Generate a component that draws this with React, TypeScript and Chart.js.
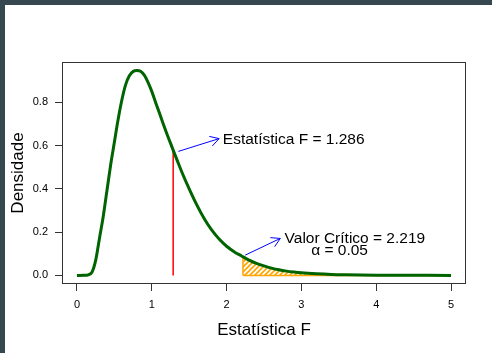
import React, { useEffect, useRef } from "react";
import { Chart, registerables } from "chart.js";

Chart.register(...registerables);

// ---- data ----
const fValues = [0, 0.1, 0.15, 0.2, 0.25, 0.3, 0.35, 0.4, 0.45, 0.5, 0.55, 0.6, 0.65, 0.7, 0.75, 0.8, 0.85, 0.9, 0.95, 1.0, 1.05, 1.1, 1.15, 1.2, 1.25, 1.3, 1.35, 1.4, 1.5, 1.6, 1.7, 1.8, 1.9, 2.0, 2.1, 2.2, 2.3, 2.4, 2.5, 2.6, 2.7, 2.8, 2.9, 3.0, 3.2, 3.4, 3.6, 3.8, 4.0, 4.5, 5.0];
const densityValues = [0, 0.0005, 0.003, 0.015, 0.07, 0.17, 0.27, 0.39, 0.51, 0.615, 0.72, 0.81, 0.88, 0.922, 0.942, 0.947, 0.943, 0.925, 0.892, 0.85, 0.8, 0.752, 0.703, 0.656, 0.611, 0.566, 0.522, 0.479, 0.4, 0.327, 0.263, 0.21, 0.168, 0.135, 0.11, 0.09, 0.071, 0.056, 0.044, 0.034, 0.026, 0.02, 0.0155, 0.012, 0.0075, 0.0045, 0.003, 0.002, 0.0013, 0.0006, 0.0003];

const xTickValues = [0, 1, 2, 3, 4, 5];
const yTickValues = [0, 0.2, 0.4, 0.6, 0.8];

const fStatistic = 1.286;
const criticalValue = 2.219;

const xAxisTitle = "Estatística F";
const yAxisTitle = "Densidade";
const statLabel = "Estatística F = 1.286";
const critLabel = "Valor Crítico = 2.219";
const alphaLabel = "α = 0.05";

const statArrow = [[1.356, 0.573], [1.9, 0.632]];
const critArrow = [[2.249, 0.094], [2.718, 0.171]];
const statLabelPos = [1.95, 0.626];
const critLabelPos = [2.775, 0.167];
const alphaLabelPos = [3.13, 0.112];

const FONT = '"Liberation Sans", Arial, Helvetica, sans-serif';

function densityAt(x: number): number {
  for (let i = 0; i < fValues.length - 1; i++) {
    if (x >= fValues[i] && x <= fValues[i + 1]) {
      const t = (x - fValues[i]) / (fValues[i + 1] - fValues[i]);
      return densityValues[i] + t * (densityValues[i + 1] - densityValues[i]);
    }
  }
  return 0;
}

function makeHatch(): CanvasPattern | string {
  const c = document.createElement("canvas");
  c.width = 5;
  c.height = 5;
  const g = c.getContext("2d");
  if (!g) return "rgba(255,165,0,0.4)";
  g.strokeStyle = "#FFA500";
  g.lineWidth = 1.6;
  g.beginPath();
  g.moveTo(-1, 6);
  g.lineTo(6, -1);
  g.moveTo(-1, 1);
  g.lineTo(1, -1);
  g.moveTo(4, 6);
  g.lineTo(6, 4);
  g.stroke();
  const p = g.createPattern(c, "repeat");
  return p || "rgba(255,165,0,0.4)";
}

const decorPlugin = {
  id: "decor",
  afterDraw(chart: any) {
    const { ctx, chartArea: a, scales } = chart;
    const xs = scales.x;
    const ys = scales.y;
    ctx.save();
    // box
    ctx.strokeStyle = "#333";
    ctx.lineWidth = 1;
    ctx.strokeRect(a.left + 0.5, a.top + 0.5, a.right - a.left - 1, a.bottom - a.top - 1);

    // arrows
    const drawArrow = (arr: number[][]) => {
      const x1 = xs.getPixelForValue(arr[0][0]);
      const y1 = ys.getPixelForValue(arr[0][1]);
      const x2 = xs.getPixelForValue(arr[1][0]);
      const y2 = ys.getPixelForValue(arr[1][1]);
      const ang = Math.atan2(y2 - y1, x2 - x1);
      const L = 10;
      ctx.strokeStyle = "#0000ff";
      ctx.lineWidth = 1;
      ctx.beginPath();
      ctx.moveTo(x1, y1);
      ctx.lineTo(x2, y2);
      ctx.moveTo(x2 - L * Math.cos(ang - Math.PI / 6), y2 - L * Math.sin(ang - Math.PI / 6));
      ctx.lineTo(x2, y2);
      ctx.lineTo(x2 - L * Math.cos(ang + Math.PI / 6), y2 - L * Math.sin(ang + Math.PI / 6));
      ctx.stroke();
    };
    drawArrow(statArrow);
    drawArrow(critArrow);

    // labels
    ctx.fillStyle = "#000";
    ctx.font = `15.5px ${FONT}`;
    ctx.textAlign = "left";
    ctx.textBaseline = "middle";
    const label = (text: string, pos: number[]) => {
      ctx.fillText(text, xs.getPixelForValue(pos[0]), ys.getPixelForValue(pos[1]) - 0.5);
    };
    label(statLabel, statLabelPos);
    label(critLabel, critLabelPos);
    label(alphaLabel, alphaLabelPos);
    ctx.restore();
  },
};

export default function App() {
  const canvasRef = useRef<HTMLCanvasElement | null>(null);

  useEffect(() => {
    const canvas = canvasRef.current;
    if (!canvas) return;

    const curve = fValues.map((x, i) => ({ x, y: densityValues[i] }));
    const shaded = [
      { x: criticalValue, y: 0 },
      { x: criticalValue, y: densityAt(criticalValue) },
      ...curve.filter((p) => p.x > criticalValue),
    ];
    const lastX = fValues[fValues.length - 1];

    const chart = new Chart(canvas, {
      type: "line",
      data: {
        datasets: [
          {
            data: curve,
            borderColor: "#006400",
            borderWidth: 3,
            pointRadius: 0,
            cubicInterpolationMode: "monotone",
            fill: false,
            order: 0,
          },
          {
            data: [
              { x: fStatistic, y: 0 },
              { x: fStatistic, y: densityAt(fStatistic) },
            ],
            borderColor: "#ff0000",
            borderWidth: 1.5,
            pointRadius: 0,
            fill: false,
            order: 1,
          },
          {
            data: shaded,
            borderColor: "#FFA500",
            borderWidth: 1.5,
            backgroundColor: makeHatch() as any,
            pointRadius: 0,
            tension: 0,
            fill: "origin",
            order: 2,
          },
          {
            data: [
              { x: criticalValue, y: 0 },
              { x: lastX, y: 0 },
            ],
            borderColor: "#FFA500",
            borderWidth: 1.5,
            pointRadius: 0,
            fill: false,
            order: 3,
          },
        ],
      },
      options: {
        responsive: false,
        animation: false,
        devicePixelRatio: 1,
        layout: { padding: { left: 0, top: 57, right: 26, bottom: 0 } },
        plugins: {
          legend: { display: false },
          tooltip: { enabled: false },
        },
        scales: {
          x: {
            type: "linear",
            min: -0.2,
            max: 5.2,
            afterBuildTicks: (s: any) => {
              s.ticks = xTickValues.map((v) => ({ value: v }));
            },
            afterFit: (s: any) => {
              s.height = 69;
            },
            ticks: {
              autoSkip: false,
              maxRotation: 0,
              color: "#000",
              padding: 7,
              font: { size: 11, family: FONT },
              callback: (v: any) => String(v),
            },
            grid: {
              display: true,
              drawOnChartArea: false,
              drawTicks: true,
              tickLength: 7,
              color: "#333",
            },
            border: { display: false },
            title: {
              display: true,
              text: xAxisTitle,
              color: "#000",
              font: { size: 17, family: FONT },
              padding: { top: 0, bottom: 12 },
            },
          },
          y: {
            type: "linear",
            min: -0.0394,
            max: 0.9857,
            afterBuildTicks: (s: any) => {
              s.ticks = yTickValues.map((v) => ({ value: v }));
            },
            afterFit: (s: any) => {
              s.width = 57;
            },
            ticks: {
              autoSkip: false,
              color: "#000",
              padding: 7,
              font: { size: 11, family: FONT },
              callback: (v: any) => Number(v).toFixed(1),
            },
            grid: {
              display: true,
              drawOnChartArea: false,
              drawTicks: true,
              tickLength: 7,
              color: "#333",
            },
            border: { display: false },
            title: {
              display: true,
              text: yAxisTitle,
              color: "#000",
              font: { size: 17, family: FONT },
              padding: { top: 3, bottom: 0 },
            },
          },
        },
      },
      plugins: [decorPlugin],
    } as any);

    return () => chart.destroy();
  }, []);

  return (
    <div style={{ position: "fixed", left: 0, top: 0, width: 492, height: 353, background: "#37474f" }}>
      <div style={{ position: "absolute", left: 5, top: 5, width: 487, height: 348, background: "#ffffff" }}>
        <canvas ref={canvasRef} width={487} height={348} style={{ display: "block", width: 487, height: 348 }} />
      </div>
    </div>
  );
}
